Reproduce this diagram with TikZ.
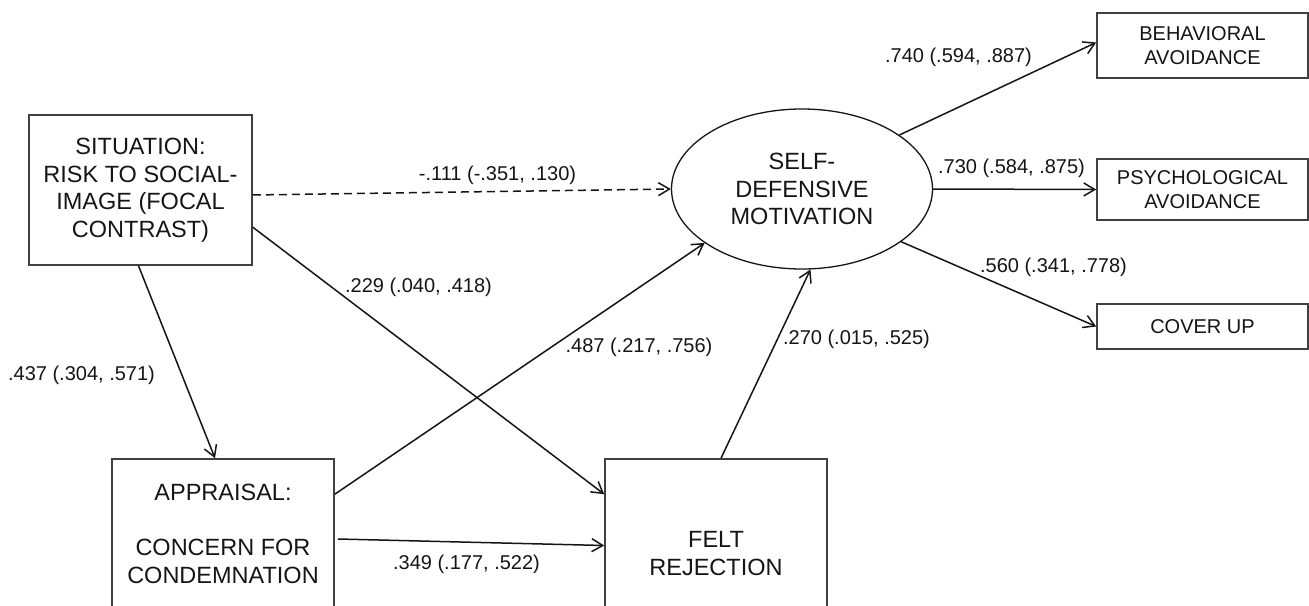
\documentclass[tikz,border=0pt]{standalone}
\usepackage{fontspec}
\setmainfont{Liberation Sans}
\usetikzlibrary{shapes.geometric,arrows.meta,calc}
\definecolor{boxgray}{HTML}{404040}
\definecolor{ink}{HTML}{151515}
\begin{document}
\begin{tikzpicture}[x=1pt,y=-1pt,
  box/.style={draw=boxgray, line width=1.6pt, rectangle, inner sep=0pt, align=center, text=ink,
              font=\fontsize{23.5}{27.5}\selectfont},
  sbox/.style={box, font=\fontsize{20}{24}\selectfont},
  ellbox/.style={draw=ink, line width=1.3pt, ellipse, inner sep=0pt, align=center, text=ink,
              font=\fontsize{23.5}{27.5}\selectfont},
  lab/.style={inner sep=0pt, text=ink, font=\fontsize{20}{24}\selectfont},
  conn/.style={draw=ink, line width=1.5pt, -{Straight Barb[length=11pt,width=13pt,line width=1.5pt]}},
  dconn/.style={conn, dash pattern=on 8pt off 5pt},
]
\clip (0,0) rectangle (1309,605);
\fill[white] (0,0) rectangle (1309,605);

% nodes
\node[box, minimum width=223pt, minimum height=150pt] (sit) at (140.5,190)
  {SITUATION:\\RISK TO SOCIAL-\\IMAGE (FOCAL\\CONTRAST)};
\node[box, minimum width=222pt, minimum height=150pt] (app) at (223,534)
  {APPRAISAL:\\\mbox{}\\CONCERN FOR\\CONDEMNATION};
\node[box, minimum width=222pt, minimum height=189pt] (felt) at (716,553.5)
  {FELT\\REJECTION};
\node[ellbox, minimum width=261pt, minimum height=160pt] (ell) at (802,189)
  {SELF-\\DEFENSIVE\\MOTIVATION};
\node[sbox, minimum width=211pt, minimum height=65pt] (beh) at (1202.5,45.5)
  {BEHAVIORAL\\AVOIDANCE};
\node[sbox, minimum width=211pt, minimum height=61pt] (psy) at (1202.5,189.5)
  {PSYCHOLOGICAL\\AVOIDANCE};
\node[sbox, minimum width=211pt, minimum height=45pt] (cov) at (1202.5,326.5)
  {COVER UP};

% connectors
\draw[conn] ($(sit.south)+(-2,0)$) -- ($(app.north)+(-8,0)$);
\draw[dconn] ($(sit.east)+(0,5)$) -- (ell.west);
\draw[conn] ($(sit.north east)+(0,113)$) -- ($(felt.north west)+(0,36)$);
\draw[conn] ($(app.north east)+(0,36)$) -- (ell.209);
\draw[conn] ($(app.east)+(3,5)$) -- ($(felt.west)+(0,-8)$);
\draw[conn] ($(felt.north)+(5,0)$) -- (ell.276);
\draw[conn] (ell.29) -- ($(beh.west)+(0,-3)$);
\draw[conn] (ell.east) -- (psy.west);
\draw[conn] (ell.332) -- (cov.west);

% labels
\node[lab] (l1) at (81.5,375) {.437 (.304, .571)};
\node[lab] (l2) at (497.5,175) {-.111 (-.351, .130)};
\node[lab] (l3) at (418.5,287) {.229 (.040, .418)};
\node[lab] (l4) at (639,347) {.487 (.217, .756)};
\node[lab] (l5) at (466.5,564) {.349 (.177, .522)};
\node[lab] (l6) at (856.5,339) {.270 (.015, .525)};
\node[lab] (l7) at (958.5,57) {.740 (.594, .887)};
\node[lab] (l8) at (1011.5,168) {.730 (.584, .875)};
\node[lab] (l9) at (1053.5,267) {.560 (.341, .778)};
\end{tikzpicture}
\end{document}
